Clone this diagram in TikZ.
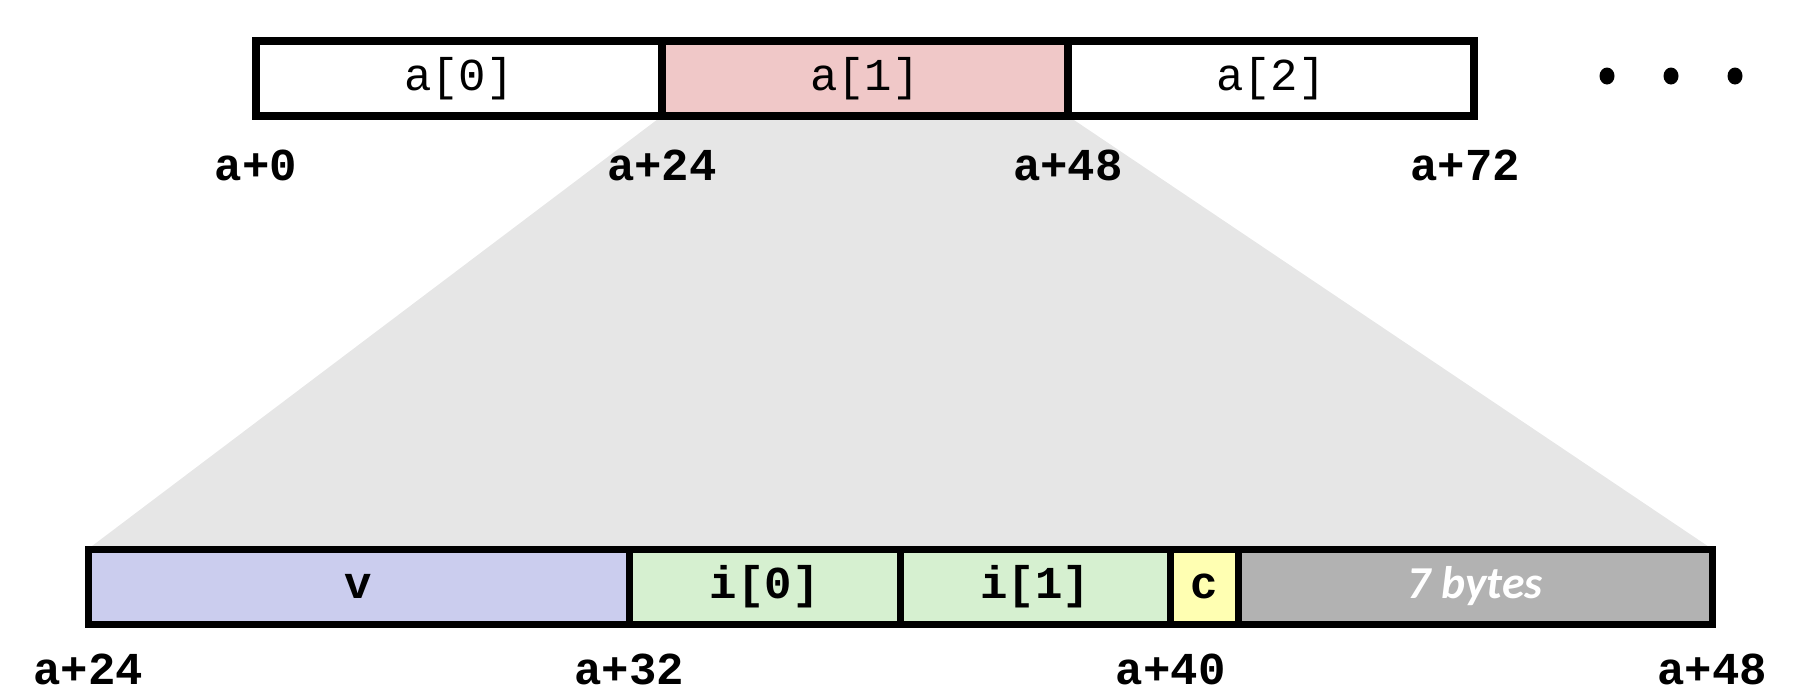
\documentclass[tikz,border=0pt]{standalone}
\usepackage{fontspec}
\setmonofont{Liberation Mono}
\newfontfamily\padfont{Carlito}
\usetikzlibrary{positioning,backgrounds}

\definecolor{elemred}{RGB}{240,200,200}
\definecolor{dblblue}{RGB}{203,205,238}
\definecolor{intgreen}{RGB}{214,240,208}
\definecolor{chryellow}{RGB}{255,255,178}
\definecolor{padgray}{RGB}{178,178,178}
\definecolor{zoomgray}{RGB}{230,230,230}

\begin{document}
\begin{tikzpicture}[x=0.1mm,y=-0.1mm,
    cell/.style={draw,line width=2pt,rectangle,inner sep=0pt,outer sep=0pt,
      minimum height=7.5mm,font=\ttfamily\bfseries\fontsize{13}{13}\selectfont},
    elem/.style={cell,minimum width=40.6mm,font=\ttfamily\fontsize{13}{13}\selectfont},
    addr/.style={font=\ttfamily\bfseries\fontsize{13}{13}\selectfont},
    more/.style={x radius=0.75mm,y radius=0.85mm}]
  \useasboundingbox (0,0) rectangle (1794,694);

  % array of structs
  \node[elem] (a0) at (459,78.5) {a[0]};
  \node[elem,fill=elemred,right=0pt of a0] (a1) {a[1]};
  \node[elem,right=0pt of a1] (a2) {a[2]};
  \fill (1607,76) ellipse [more];
  \fill (1671,76) ellipse [more];
  \fill (1735,76) ellipse [more];

  \node[addr] (t0) at ([yshift=-4.9mm]a0.south west) {a+0};
  \node[addr] (t24) at ([yshift=-4.9mm]a1.south west) {a+24};
  \node[addr] (t48) at ([yshift=-4.9mm]a2.south west) {a+48};
  \node[addr] (t72) at ([xshift=-0.9mm,yshift=-4.9mm]a2.south east) {a+72};

  % one element, zoomed in
  \node[cell,fill=dblblue,minimum width=54.13mm] (v) at (358.7,586.5) {v};
  \node[cell,fill=intgreen,minimum width=27.07mm,right=0pt of v] (i0) {i[0]};
  \node[cell,fill=intgreen,minimum width=27.07mm,right=0pt of i0] (i1) {i[1]};
  \node[cell,fill=chryellow,minimum width=6.77mm,right=0pt of i1] (c) {c};
  \node[cell,fill=padgray,minimum width=47.37mm,right=0pt of c,
    font=\padfont\bfseries\itshape\fontsize{13}{13}\selectfont,text=white] (pad) {7 bytes};

  \node[addr] (b24) at ([yshift=-4.5mm]v.south west) {a+24};
  \node[addr] (b32) at ([yshift=-4.5mm]v.south east) {a+32};
  \node[addr] (b40) at ([yshift=-4.5mm]c.south west) {a+40};
  \node[addr] (b48) at ([yshift=-4.5mm]pad.south east) {a+48};

  \begin{pgfonlayer}{background}
    \fill[zoomgray] (a1.south west) -- (v.north west) -- (pad.north east) -- (a1.south east) -- cycle;
  \end{pgfonlayer}
\end{tikzpicture}
\end{document}
